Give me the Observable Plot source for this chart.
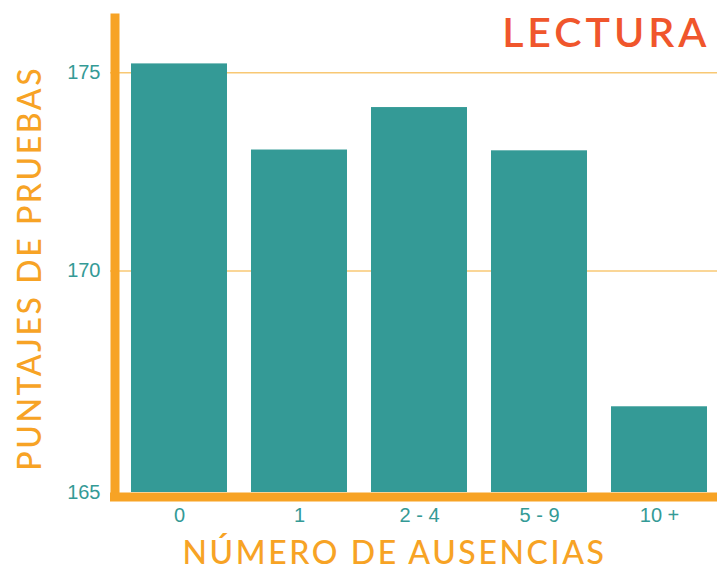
<!DOCTYPE html>
<html>
<head>
<meta charset="utf-8">
<script src="https://cdn.jsdelivr.net/npm/d3@7"></script>
<script src="https://cdn.jsdelivr.net/npm/@observablehq/plot@0.6"></script>
<style>
  html, body { margin: 0; padding: 0; background: #ffffff; }
</style>
</head>
<body>
<div id="chart"></div>
<script>
// Data
const categories = ["0", "1", "2 - 4", "5 - 9", "10 +"];
const scores = [175.22, 173.05, 174.12, 173.03, 166.58];
const yDomain = [164.42, 176.49];
const gridValues = [170, 175];
const yTickValues = [164.42, 170, 175];
const yTickLabels = ["165", "170", "175"];
const title = "LECTURA";
const xTitle = "NÚMERO DE AUSENCIAS";
const yTitle = "PUNTAJES DE PRUEBAS";

const data = categories.map((c, i) => ({cat: c, score: scores[i]}));

const teal = "#349a96";
const orange = "#f7a325";
const gridColor = "#f8c874";
const red = "#f0562c";

const chart = Plot.plot({
  width: 717,
  height: 571,
  marginTop: 17.5,
  marginLeft: 110,
  marginRight: 0,
  marginBottom: 79,
  style: {fontFamily: "'Liberation Sans', Arial, sans-serif", fontSize: "20px", background: "#ffffff"},
  x: {domain: categories, range: [118, 719], paddingInner: 0.2, paddingOuter: 0.1, axis: null, label: null},
  y: {domain: yDomain, range: [492, 13], axis: null, label: null},
  marks: [
    Plot.ruleY(gridValues, {stroke: gridColor, strokeWidth: 1.5}),
    Plot.barY(data, {x: "cat", y1: yDomain[0], y2: "score", fill: teal}),
    Plot.ruleY([yDomain[0]], {stroke: orange, strokeWidth: 9, dy: 4.5}),
    Plot.frame({anchor: "left", stroke: orange, strokeWidth: 9, dx: 4.5, strokeLinecap: "square"}),
    Plot.axisY(yTickValues, {tickSize: 0, tickPadding: 10, label: null, color: teal, fontSize: 20,
      tickFormat: d => yTickLabels[yTickValues.indexOf(d)]}),
    Plot.axisX({tickSize: 0, tickPadding: 15, label: null, color: teal, fontSize: 20}),
    Plot.text([title], {frameAnchor: "top-right", textAnchor: "end", lineAnchor: "middle",
      dx: -7, dy: 15.5, fill: red, fontSize: 41, fontFamily: "Lato", fontWeight: 600}),
    Plot.text([xTitle], {frameAnchor: "bottom", textAnchor: "middle", lineAnchor: "middle",
      dx: -19.5, dy: 61, fill: orange, fontSize: 32, fontFamily: "Lato", fontWeight: 500}),
    Plot.text([yTitle], {frameAnchor: "left", textAnchor: "middle", lineAnchor: "middle", rotate: -90,
      dx: -80, dy: 13, fill: orange, fontSize: 32, fontFamily: "Lato", fontWeight: 500})
  ]
});

const tickTexts = new Set([...categories, ...yTickLabels]);
chart.querySelectorAll("text").forEach(t => {
  const s = t.textContent;
  if (s === title) t.setAttribute("letter-spacing", "4");
  if (s === xTitle || s === yTitle) t.setAttribute("letter-spacing", "2.6");
  if (tickTexts.has(s)) t.style.fontSize = "20px";
});

document.getElementById("chart").appendChild(chart);
</script>
</body>
</html>
